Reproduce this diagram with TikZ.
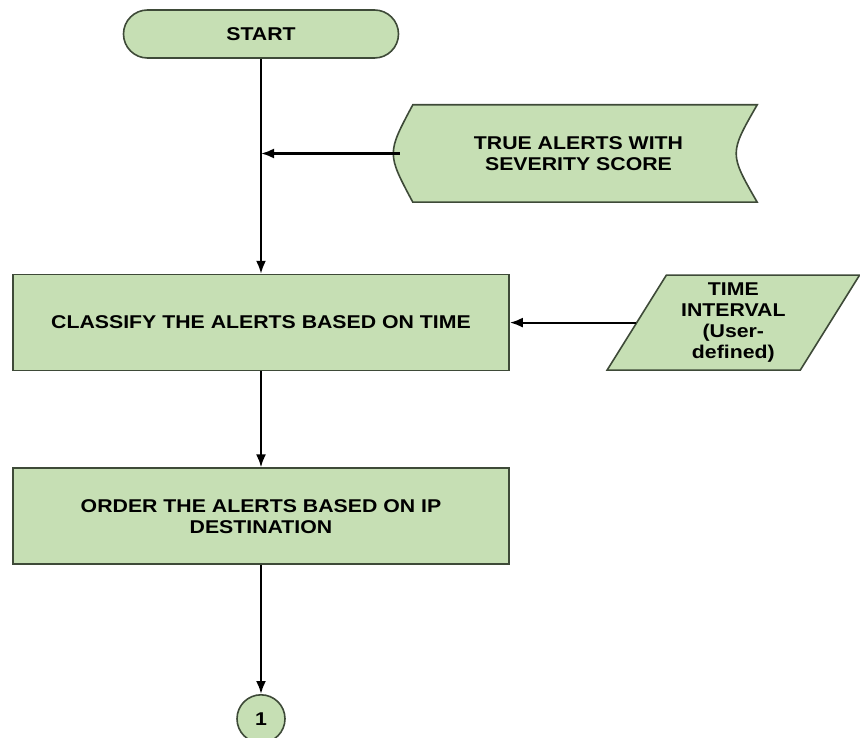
\documentclass[tikz,border=0pt]{standalone}
\usepackage{fontspec}
\setmainfont{Liberation Sans}[FakeStretch=1.15]
\usepackage{tikz}
\usetikzlibrary{positioning, arrows.meta, shapes.geometric, backgrounds}
\definecolor{boxgreen}{HTML}{C6DFB4}
\definecolor{boxline}{HTML}{3E4A38}
\def\flow{\draw[-{Latex[length=13pt,width=10pt]}, line width=2.2pt]}

\begin{document}
\begin{tikzpicture}[x=1pt, y=1pt,
    every node/.style={font=\fontsize{18.5}{21}\selectfont\bfseries, align=center},
    shapeline/.style={draw=boxline, fill=boxgreen, line width=1.6pt},
    stepbox/.style={shapeline, minimum width=496pt, minimum height=96pt}]
    \useasboundingbox (0,0) rectangle (860,-738);

    \node [shapeline, rounded corners=24pt, minimum width=275pt, minimum height=48pt] (start) at (261,-34) {START};
    \node [stepbox, below=215pt of start] (classify) {CLASSIFY THE ALERTS BASED ON TIME};
    \node [stepbox, below=96pt of classify] (order) {ORDER THE ALERTS BASED ON IP\\DESTINATION};
    \node [shapeline, circle, minimum size=48pt, inner sep=0pt, below=129pt of order] (conn) {1};
    \node [minimum width=357pt, minimum height=97pt, inner sep=0pt] (alerts) at (578.5,-153.5) {TRUE ALERTS WITH\\SEVERITY SCORE};
    \node [shapeline, trapezium, trapezium left angle=60, trapezium right angle=120, trapezium stretches=true,
        minimum width=253pt, minimum height=95pt, inner sep=1pt, right=126pt of classify] (interval) {TIME\\INTERVAL\\(User-\\defined)};

    % stored data outline behind its text
    \begin{scope}[on background layer]
        \draw[shapeline] ([xshift=13pt]alerts.north west) -- (alerts.north east)
            .. controls ([xshift=-28pt]alerts.east) .. (alerts.south east)
            -- ([xshift=13pt]alerts.south west)
            .. controls ([xshift=-13pt]alerts.west) .. cycle;
    \end{scope}

    \flow (start) -- (classify);
    \flow (alerts.west) -- (alerts.west -| start.south);
    \flow (interval.west) -- (classify.east);
    \flow (classify) -- (order);
    \flow (order) -- (conn);
\end{tikzpicture}
\end{document}
